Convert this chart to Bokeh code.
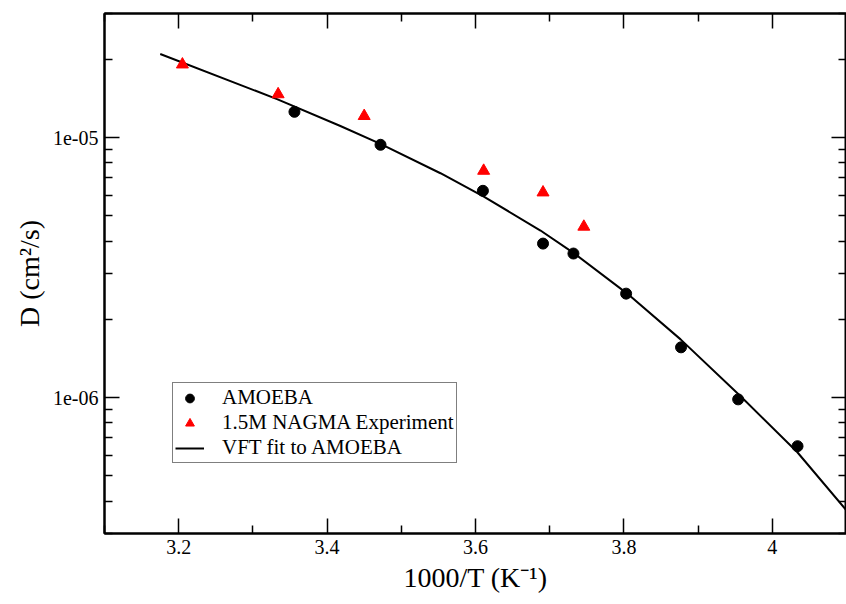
from bokeh.plotting import figure
from bokeh.models import (Range1d, FixedTicker, CustomJSTickFormatter, LinearAxis, LogAxis, Legend)
from bokeh.embed import file_html
from bokeh.resources import INLINE

# ---- data ----
amoeba_x = [3.356, 3.472, 3.610, 3.691, 3.732, 3.803, 3.877, 3.954, 4.034]
amoeba_d = [1.256e-5, 9.38e-6, 6.24e-6, 3.91e-6, 3.58e-6, 2.51e-6, 1.56e-6, 9.84e-7, 6.5e-7]

exp_x = [3.205, 3.334, 3.450, 3.611, 3.691, 3.746]
exp_d = [1.91e-5, 1.467e-5, 1.21e-5, 7.45e-6, 6.15e-6, 4.54e-6]

vft_x = [3.1751, 3.3325, 3.4179, 3.4719, 3.5528, 3.6112, 3.6876, 3.7325, 3.8045, 3.8764, 3.9573, 4.0338, 4.1003]
vft_d = [2.096e-5, 1.406e-5, 1.108e-5, 9.45e-6, 7.29e-6, 5.928e-6, 4.389e-6, 3.594e-6, 2.511e-6, 1.674e-6, 1.0116e-6, 6.16e-7, 3.67e-7]

x_tick_values = [3.2, 3.4, 3.6, 3.8, 4.0]
x_tick_labels = ["3.2", "3.4", "3.6", "3.8", "4"]
x_minor_ticks = [3.1, 3.3, 3.5, 3.7, 3.9, 4.1]

y_tick_values = [1e-6, 1e-5]
y_tick_labels = ["1e-06", "1e-05"]
y_minor_ticks = [3e-7, 4e-7, 5e-7, 6e-7, 7e-7, 8e-7, 9e-7,
                 2e-6, 3e-6, 4e-6, 5e-6, 6e-6, 7e-6, 8e-6, 9e-6,
                 2e-5, 3e-5]

series_labels = ["AMOEBA", "1.5M NAGMA Experiment", "VFT fit to AMOEBA"]

FONT = "Liberation Serif"

p = figure(width=846, height=604, output_backend="svg", toolbar_location=None,
           y_axis_type="log",
           x_range=Range1d(3.1, 4.1), y_range=Range1d(3e-7, 3e-5),
           min_border_left=104, min_border_right=0, min_border_top=13, min_border_bottom=71)
p.background_fill_color = "white"
p.border_fill_color = "white"
p.outline_line_color = "black"
p.outline_line_width = 2
p.xgrid.visible = False
p.ygrid.visible = False

xticker = FixedTicker(ticks=x_tick_values, minor_ticks=x_minor_ticks)
yticker = FixedTicker(ticks=y_tick_values, minor_ticks=y_minor_ticks)

xfmt = CustomJSTickFormatter(args=dict(vals=x_tick_values, labs=x_tick_labels), code="""
const i = vals.findIndex(v => Math.abs(v - tick) < 1e-6);
return i >= 0 ? labs[i] : "";
""")
yfmt = CustomJSTickFormatter(args=dict(vals=y_tick_values, labs=y_tick_labels), code="""
const i = vals.findIndex(v => Math.abs(Math.log10(v) - Math.log10(tick)) < 1e-6);
return i >= 0 ? labs[i] : "";
""")

def style_axis(ax):
    ax.axis_line_color = "black"
    ax.axis_line_width = 2
    ax.major_tick_in = 15
    ax.major_tick_out = 0
    ax.minor_tick_in = 8
    ax.minor_tick_out = 0
    ax.major_tick_line_color = "black"
    ax.major_tick_line_width = 1.5
    ax.minor_tick_line_color = "black"
    ax.minor_tick_line_width = 1.5
    ax.major_label_text_font = FONT
    ax.major_label_text_font_size = "20px"
    ax.major_label_text_color = "black"
    ax.axis_label_text_font = FONT
    ax.axis_label_text_font_size = "28px"
    ax.axis_label_text_font_style = "normal"
    ax.axis_label_text_color = "black"

xa = p.xaxis[0]
xa.ticker = xticker
xa.formatter = xfmt
style_axis(xa)
xa.major_label_standoff = 6
xa.axis_label = "1000/T (K\u207b\u00b9)"
xa.axis_label_standoff = 5

ya = p.yaxis[0]
ya.ticker = yticker
ya.formatter = yfmt
style_axis(ya)
ya.major_label_standoff = 6
ya.axis_label = "D (cm\u00b2/s)"
ya.axis_label_standoff = 5

top = LinearAxis(ticker=xticker)
style_axis(top)
top.major_label_text_font_size = "0px"
top.major_label_standoff = 0
top.formatter = CustomJSTickFormatter(code="return '';")
p.add_layout(top, "above")

right = LogAxis(ticker=yticker)
style_axis(right)
right.major_label_text_font_size = "0px"
right.major_label_standoff = 0
right.formatter = CustomJSTickFormatter(code="return '';")
p.add_layout(right, "right")

r_line = p.line(vft_x, vft_d, line_color="black", line_width=2, line_join="round")
r_amo = p.scatter(amoeba_x, amoeba_d, marker="circle", size=11, fill_color="black", line_color="black")
r_exp = p.scatter(exp_x, exp_d, marker="triangle", size=12, fill_color="#ff0000", line_color="#ff0000")

legend = Legend(items=[(series_labels[0], [r_amo]), (series_labels[1], [r_exp]), (series_labels[2], [r_line])],
                location=(68, 70))
legend.label_text_font = FONT
legend.label_text_font_size = "21px"
legend.label_text_color = "black"
legend.border_line_color = "black"
legend.border_line_width = 1.5
legend.background_fill_color = "white"
legend.background_fill_alpha = 1
legend.glyph_width = 29
legend.glyph_height = 22
legend.label_height = 22
legend.label_standoff = 18
legend.spacing = 0
legend.padding = 2
legend.margin = 0
p.add_layout(legend, "center")

open("out.html", "w").write(file_html(p, INLINE))
